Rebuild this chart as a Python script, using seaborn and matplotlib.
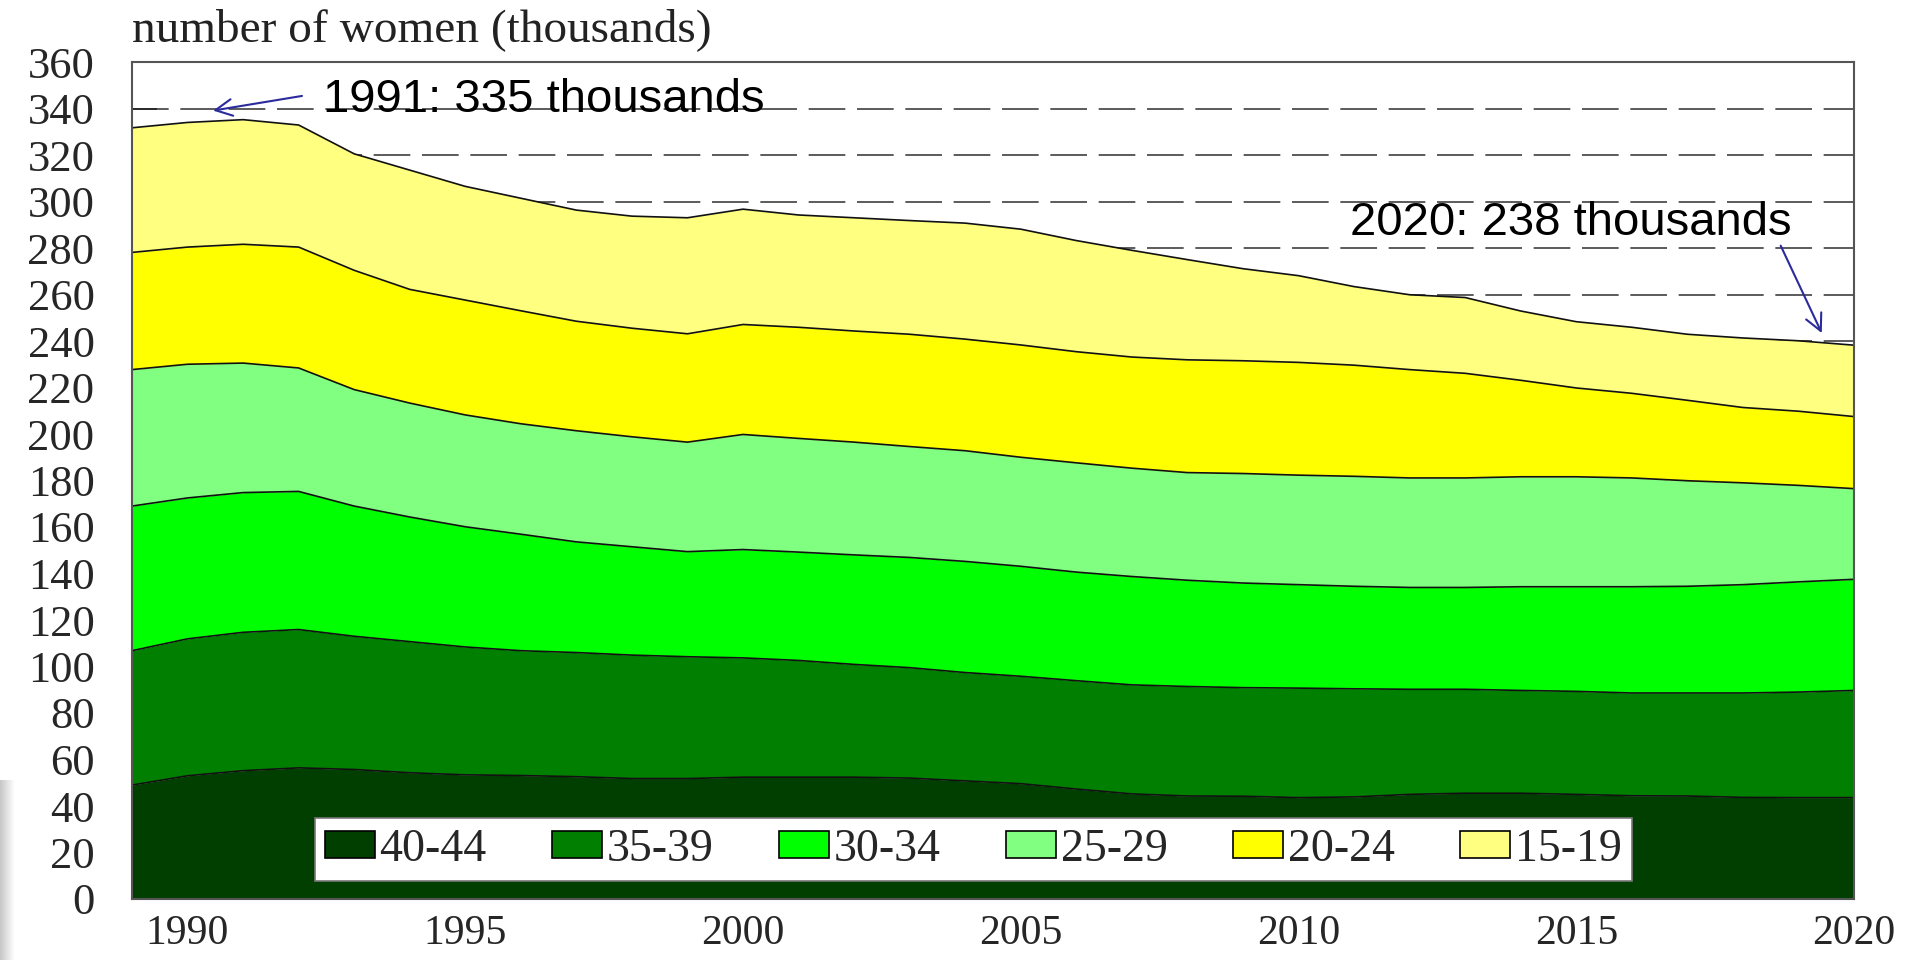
import numpy as np
import pandas as pd
import matplotlib
matplotlib.use("Agg")
import matplotlib.pyplot as plt
import seaborn as sns
from matplotlib.patches import Patch

# ---------------- data (thousands of women, by age group) ----------------
years = list(range(1989, 2021))
age_groups = ["40-44", "35-39", "30-34", "25-29", "20-24", "15-19"]

women_40_44 = [49.0, 53.0, 55.2, 56.4, 55.7, 54.3, 53.4, 53.1, 52.6, 51.8, 51.8, 52.4,
               52.4, 52.4, 52.0, 50.8, 49.6, 47.3, 45.2, 44.3, 44.2, 43.6, 43.9, 45.0,
               45.5, 45.5, 45.0, 44.4, 44.3, 43.7, 43.6, 43.6]
women_35_39 = [57.8, 58.9, 59.5, 59.5, 57.3, 56.4, 55.0, 53.7, 53.4, 53.1, 52.4, 51.3,
               50.2, 48.5, 47.5, 46.6, 46.2, 46.6, 46.9, 47.1, 46.7, 47.1, 46.5, 45.2,
               44.7, 44.2, 44.3, 44.2, 44.3, 44.9, 45.4, 46.1]
women_30_34 = [62.2, 60.6, 60.1, 59.4, 56.0, 53.6, 51.7, 50.1, 47.6, 46.6, 45.2, 46.6,
               46.6, 47.1, 47.4, 47.8, 47.3, 46.7, 46.6, 45.7, 45.0, 44.5, 44.1, 43.8,
               43.8, 44.6, 45.0, 45.7, 45.9, 46.6, 47.4, 47.8]
women_25_29 = [58.7, 57.5, 55.7, 53.1, 50.1, 49.0, 48.1, 47.5, 47.8, 47.3, 47.1, 49.5,
               48.9, 48.5, 47.7, 47.6, 46.9, 47.0, 46.6, 46.3, 47.1, 47.1, 47.3, 47.1,
               47.1, 47.3, 47.3, 46.8, 45.4, 43.8, 41.5, 39.0]
women_20_24 = [50.4, 50.4, 51.1, 52.0, 51.3, 48.9, 49.4, 48.6, 47.1, 46.7, 46.6, 47.3,
               47.8, 47.8, 48.3, 48.0, 48.3, 47.8, 47.8, 48.5, 48.5, 48.5, 47.8, 46.6,
               45.0, 41.5, 38.2, 36.4, 34.6, 32.4, 31.9, 31.0]
women_15_19 = [53.6, 53.6, 53.6, 52.5, 50.1, 51.3, 48.9, 48.4, 47.8, 48.2, 49.9, 49.6,
               48.3, 48.7, 48.9, 49.9, 49.8, 47.8, 45.9, 43.1, 39.6, 37.3, 33.8, 32.2,
               32.6, 29.8, 28.5, 28.4, 28.4, 29.9, 30.3, 30.7]

title_text = "number of women (thousands)"
note_1991 = "1991: 335 thousands"
note_2020 = "2020: 238 thousands"
y_ticks = list(range(0, 361, 20))
x_major = list(range(1990, 2021, 5))

colors = ["#003F00", "#007F00", "#00FF00", "#80FF80", "#FFFF00", "#FFFF80"]

df = pd.DataFrame({"year": years,
                   "40-44": women_40_44, "35-39": women_35_39, "30-34": women_30_34,
                   "25-29": women_25_29, "20-24": women_20_24, "15-19": women_15_19})
cum = df[age_groups].cumsum(axis=1)
cum["year"] = years

# ---------------- style ----------------
sns.set_theme(style="white")
plt.rcParams["font.family"] = ["Liberation Serif", "DejaVu Serif"]

fig = plt.figure(figsize=(19.12, 9.6), dpi=100)
fig.patch.set_facecolor("white")
ax = fig.add_axes([132 / 1912, 61 / 960, 1722 / 1912, 837 / 960])

# stacked areas
lower = np.zeros(len(years))
for g, c in zip(age_groups, colors):
    upper = cum[g].to_numpy()
    ax.fill_between(df["year"], lower, upper, color=c, lw=0, zorder=2)
    lower = upper

# boundary lines via seaborn
long = cum.melt(id_vars="year", var_name="group", value_name="cum")
sns.lineplot(data=long, x="year", y="cum", hue="group", hue_order=age_groups,
             palette=["#111111"] * 6, legend=False, linewidth=1.2, ax=ax, zorder=3)

ax.set_xlim(1989, 2020)
ax.set_ylim(0, 360)
ax.set_xlabel("")
ax.set_ylabel("")

ax.set_yticks(y_ticks)
ax.set_yticklabels([str(v) for v in y_ticks], fontsize=32)
ax.set_xticks(x_major)
ax.set_xticklabels([str(v) for v in x_major], fontsize=30)
ax.set_xticks(years[1:-1], minor=True)

ax.yaxis.grid(True, linestyle=(0, (22, 7)), color="#404040", linewidth=1.2)
ax.xaxis.grid(False)
ax.set_axisbelow(True)

ax.tick_params(axis="y", which="major", direction="in", length=18, width=1.2,
               color="#222222", pad=27, left=True, right=False)
ax.tick_params(axis="x", which="both", direction="in", length=12, width=1.2,
               color="#222222", pad=11, bottom=True, top=False)

for s in ax.spines.values():
    s.set_visible(True)
    s.set_color("#555555")
    s.set_linewidth(1.5)
    s.set_zorder(5)

# legend
handles = [Patch(facecolor=c, edgecolor="black", linewidth=1.2, label=g)
           for g, c in zip(age_groups, colors)]
leg = ax.legend(handles=handles, ncol=6, loc="lower left",
                bbox_to_anchor=(0.106, 0.022), frameon=True, fancybox=False,
                framealpha=1, edgecolor="#777777", fontsize=33,
                handlelength=1.1, handleheight=0.52, handletextpad=0.1,
                columnspacing=1.42, borderpad=0.22, borderaxespad=0)
leg.get_frame().set_linewidth(1.2)
leg.set_zorder(6)

# annotations
arrow_col = "#2B2B9C"
ax.text(1992.44, 338.4, note_1991, fontsize=34, family=["Liberation Sans", "DejaVu Sans"],
        ha="left", va="baseline", color="black", zorder=7)
ax.annotate("", xy=(1990.46, 339.1), xytext=(1992.06, 345.4),
            arrowprops=dict(arrowstyle="->", color=arrow_col, lw=1.5,
                            mutation_scale=30, shrinkA=0, shrinkB=0), zorder=7)
ax.text(2018.87, 285.7, note_2020, fontsize=34, family=["Liberation Sans", "DejaVu Sans"],
        ha="right", va="baseline", color="black", zorder=7)
ax.annotate("", xy=(2019.42, 243.4), xytext=(2018.68, 281.0),
            arrowprops=dict(arrowstyle="->", color=arrow_col, lw=1.5,
                            mutation_scale=30, shrinkA=0, shrinkB=0), zorder=7)

# title above the axes
fig.text(132 / 1912, 1 - 41.5 / 960, title_text, fontsize=34, ha="left",
         va="baseline", color="#222222")

# faint gray strip at the lower-left edge
strip = fig.add_axes([0, 0, 15 / 1912, 180 / 960])
grad = np.linspace(0.78, 1.0, 32).reshape(1, -1)
strip.imshow(grad, cmap="gray", vmin=0, vmax=1, aspect="auto")
strip.set_axis_off()

fig.savefig("out.png", dpi=100, facecolor="white")
